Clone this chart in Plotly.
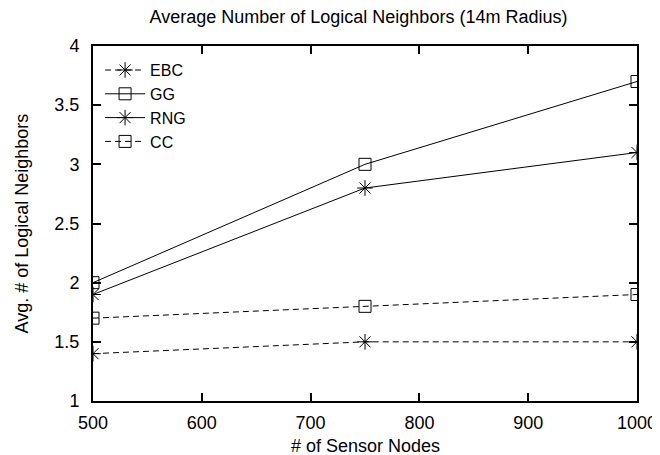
import plotly.graph_objects as go

nodes = [500, 750, 1000]
ebc = [1.4, 1.5, 1.5]
gg = [2.0, 3.0, 3.7]
rng = [1.9, 2.8, 3.1]
cc = [1.7, 1.8, 1.9]

x_ticks = [500, 600, 700, 800, 900, 1000]
y_ticks = [1, 1.5, 2, 2.5, 3, 3.5, 4]
y_labels = ["1", "1.5", "2", "2.5", "3", "3.5", "4"]

font = "Liberation Sans, Arial, sans-serif"
FS = 18

# page body has an 8px default margin, so the figure is 8px smaller
W, H = 652, 447
L, R, T, B = 85, 23, 38, 54

fig = go.Figure()
series = [
    ("EBC", ebc, "asterisk-open", 13, "6px,4px"),
    ("GG", gg, "square-open", 12, "solid"),
    ("RNG", rng, "asterisk-open", 13, "solid"),
    ("CC", cc, "square-open", 12, "6px,4px"),
]
for name, vals, sym, sz, dash in series:
    fig.add_trace(go.Scatter(
        x=nodes, y=vals, name=name, mode="lines+markers",
        line=dict(color="black", width=1, dash=dash),
        marker=dict(symbol=sym, size=sz, color="black", line=dict(width=1, color="black")),
    ))

fig.update_layout(
    width=W, height=H,
    margin=dict(l=L, r=R, t=T, b=B),
    paper_bgcolor="white", plot_bgcolor="white",
    font=dict(family=font, size=FS, color="black"),
    title=dict(text="Average Number of Logical Neighbors (14m Radius)",
               x=350.5 / W, xanchor="center", xref="container",
               y=1 - 9 / H, yanchor="middle", font=dict(size=FS)),
    showlegend=True,
    legend=dict(x=0.013, y=0.98, xanchor="left", yanchor="top",
                bgcolor="rgba(0,0,0,0)", borderwidth=0, itemwidth=40,
                font=dict(size=16), tracegroupgap=0),
    annotations=[
        dict(text="# of Sensor Nodes", xref="paper", yref="paper", x=0.5, y=0,
             xanchor="center", yanchor="middle", yshift=-45, showarrow=False,
             font=dict(size=FS)),
        dict(text="Avg. # of Logical Neighbors", xref="paper", yref="paper", x=0, y=0.5,
             xanchor="center", yanchor="middle", xshift=-72, textangle=-90,
             showarrow=False, font=dict(size=FS)),
    ],
)
fig.update_xaxes(
    range=[500, 1000], tickvals=x_ticks, ticktext=[str(v) for v in x_ticks],
    showline=True, linecolor="black", linewidth=2, mirror="ticks",
    ticks="inside", ticklen=8, tickwidth=2, tickcolor="black",
    showgrid=False, zeroline=False, automargin=False, ticklabelstandoff=4,
)
fig.update_yaxes(
    range=[1, 4], tickvals=y_ticks, ticktext=y_labels,
    showline=True, linecolor="black", linewidth=2, mirror="ticks",
    ticks="inside", ticklen=8, tickwidth=2, tickcolor="black",
    showgrid=False, zeroline=False, automargin=False, ticklabelstandoff=8,
)

fig.write_html("out.html")
